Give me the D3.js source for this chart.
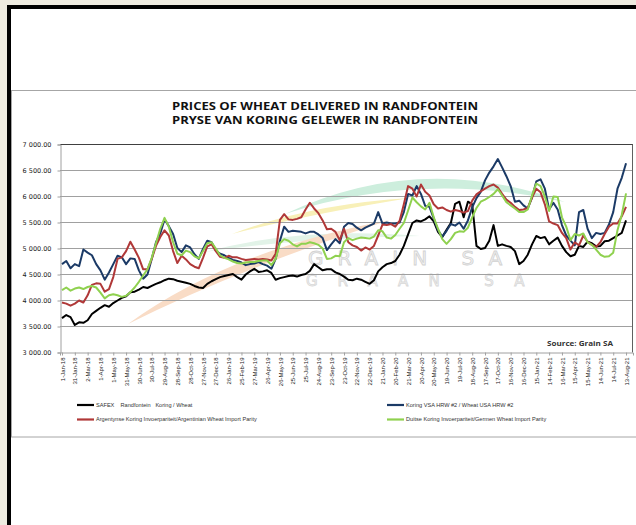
<!DOCTYPE html>
<html>
<head>
<meta charset="utf-8">
<script src="https://cdn.jsdelivr.net/npm/d3@7"></script>
<style>
html,body{margin:0;padding:0;background:#eeebe0;}
svg{display:block;}
text{font-family:"Liberation Sans",Arial,sans-serif;}
</style>
</head>
<body>
<svg id="chart"></svg>
<script>
// readings every 10 days from 1-Jan-18
const startDate = new Date(2018,0,1);
const stepDays = 10;

const safex = [3660,3720,3680,3530,3580,3570,3620,3740,3800,3860,
  3910,3880,3950,4000,4050,4080,4160,4170,4210,4260,
  4240,4280,4320,4350,4390,4420,4410,4380,4360,4340,
  4320,4280,4250,4240,4320,4370,4410,4450,4470,4490,
  4510,4450,4400,4500,4560,4610,4550,4560,4580,4530,
  4400,4430,4450,4470,4480,4460,4490,4510,4570,4700,
  4640,4580,4600,4600,4540,4510,4460,4400,4390,4420,
  4400,4360,4320,4390,4560,4640,4700,4720,4760,4880,
  5050,5270,5490,5540,5520,5560,5620,5520,5320,5220,
  5360,5490,5860,5900,5600,5900,5850,5050,4990,5010,
  5150,5450,5050,5080,5050,5030,4950,4700,4760,4880,
  5080,5240,5200,5220,5080,5150,5210,5050,4930,4850,
  4880,5050,5030,5130,5100,5040,5050,5140,5150,5200,
  5250,5300,5540];

const usaHrw = [4700,4760,4620,4700,4660,4980,4920,4870,4700,4580,
  4400,4540,4700,4860,4830,4700,4810,4800,4580,4420,
  4500,4800,5120,5290,5560,5430,5280,5010,4930,5060,
  5020,4890,4800,4990,5150,5120,4960,4900,4870,4820,
  4780,4760,4730,4680,4700,4710,4740,4700,4670,4610,
  4800,5150,5420,5320,5340,5330,5320,5290,5320,5320,
  5270,5200,4970,5080,5180,5100,5420,5490,5470,5400,
  5350,5400,5440,5480,5700,5480,5500,5480,5480,5500,
  5700,6050,6020,6200,6050,5820,5800,5580,5350,5230,
  5340,5470,5440,5500,5380,5540,5790,5970,6090,6310,
  6460,6580,6720,6560,6390,6200,5900,5920,5830,5770,
  5980,6290,6330,6150,5750,5880,5750,5450,5250,5150,
  5060,5700,5740,5380,5200,5300,5280,5300,5460,5700,
  6150,6360,6640];

const argentina = [3960,3940,3900,3940,4000,3960,4100,4300,4330,4320,
  4170,4220,4450,4800,4830,4950,5130,4980,4820,4600,
  4600,4800,5050,5220,5350,5250,4950,4720,4860,4790,
  4700,4650,4620,4820,5040,5080,4950,4840,4820,4860,
  4830,4830,4800,4780,4790,4800,4790,4800,4790,4770,
  4900,5550,5660,5560,5550,5570,5600,5750,5880,5770,
  5680,5540,5370,5380,5320,5160,5380,5120,5060,5030,
  4960,5020,4980,5050,5250,5460,5450,5470,5420,5530,
  5850,6200,6150,6000,6230,6090,6020,5850,5770,5790,
  5740,5710,5740,5720,5690,5720,5920,6040,6100,6150,
  6200,6230,6170,6050,5940,5880,5800,5740,5750,5780,
  5980,6150,6080,5850,5520,5480,5450,5300,5200,4980,
  5120,5060,5250,5130,5070,5030,5120,5280,5420,5480,
  5480,5620,5800];

const germany = [4200,4250,4190,4230,4250,4220,4260,4280,4250,4150,
  4040,4100,4120,4100,4070,4090,4160,4250,4360,4480,
  4600,4820,5100,5380,5590,5420,5120,4900,4870,4960,
  4930,4850,4810,4950,5100,5120,5000,4870,4820,4790,
  4750,4720,4710,4730,4740,4740,4760,4770,4770,4680,
  4800,5100,5180,5150,5080,5040,5090,5090,5120,5100,
  5070,5000,4800,4810,4860,4850,5120,5200,5160,5190,
  5210,5200,5190,5230,5350,5330,5210,5190,5260,5380,
  5490,5730,5980,5890,5810,5750,5880,5600,5380,5180,
  5090,5180,5300,5330,5320,5400,5600,5780,5900,5940,
  5990,6050,6140,6020,5890,5830,5770,5700,5700,5750,
  6020,6250,6200,6000,5720,6000,5990,5600,5420,5160,
  5280,5250,5290,5120,5070,4980,4880,4840,4850,4920,
  5350,5650,6060];

const xLabels = ["1-Jan-18","31-Jan-18","2-Mar-18","1-Apr-18","1-May-18","31-May-18",
  "30-Jun-18","30-Jul-18","29-Aug-18","28-Sep-18","28-Oct-18","27-Nov-18","27-Dec-18",
  "26-Jan-19","25-Feb-19","27-Mar-19","26-Apr-19","26-May-19","25-Jun-19","25-Jul-19",
  "24-Aug-19","23-Sep-19","23-Oct-19","22-Nov-19","22-Dec-19","21-Jan-20","20-Feb-20",
  "21-Mar-20","20-Apr-20","20-May-20","19-Jun-20","19-Jul-20","18-Aug-20","17-Sep-20",
  "17-Oct-20","16-Nov-20","16-Dec-20","15-Jan-21","14-Feb-21","16-Mar-21","15-Apr-21",
  "15-May-21","14-Jun-21","14-Jul-21","13-Aug-21"];

const yTicks = [3000,3500,4000,4500,5000,5500,6000,6500,7000];

const seriesNames = [
  "SAFEX    Randfontein   Koring / Wheat",
  "Koring VSA HRW #2 / Wheat USA HRW #2",
  "Argentynse Koring Invoerpariteit/Argentinian Wheat Import Parity",
  "Duitse Koring Invoerpariteit/Germen Wheat Import Parity"
];

const COLORS = ["#000000","#1b3a66","#b03838","#8fd14f"];

const W = 636;
const H = 525;
const plot = {left:60, right:633, top:144.5, bottom:352.5};

const svg = d3.select("#chart")
  .attr("width",W)
  .attr("height",H);

// page frame
svg.append("rect").attr("x",7).attr("y",5).attr("width",W).attr("height",H).attr("fill","#000");
svg.append("rect").attr("x",11).attr("y",9).attr("width",W).attr("height",H).attr("fill","#fff");
svg.append("rect")
  .attr("x",11.5).attr("y",90.5)
  .attr("width",W).attr("height",346.5)
  .attr("fill","#fff")
  .attr("stroke","#a6a6a6");

const parseLabel = d3.timeParse("%d-%b-%y");
const tickDates = xLabels.map(parseLabel);
const sampleDates = safex.map((d,i)=>d3.timeDay.offset(startDate,i*stepDays));

const x = d3.scaleTime()
  .domain([new Date(2017,11,27,8), new Date(2021,7,29,7)])
  .range([plot.left,plot.right]);

const y = d3.scaleLinear()
  .domain([3000,7000])
  .range([plot.bottom,plot.top]);

// watermark (Grain SA logo)
const wm = svg.append("g");
wm.append("path")
  .attr("d","M285,214 Q420,150 565,202 Q420,170 285,214 Z")
  .attr("fill","#cdeedd");
wm.append("path")
  .attr("d","M205,252 Q300,226 420,236 Q300,238 205,252 Z")
  .attr("fill","#e2f3e8");
wm.append("path")
  .attr("d","M232,234 Q310,204 410,198 Q310,214 232,234 Z")
  .attr("fill","#f8f0b8");
wm.append("path")
  .attr("d","M128,324 Q230,250 390,220 Q240,268 128,324 Z")
  .attr("fill","#f9dcc6");
wm.append("text")
  .attr("x",308).attr("y",265)
  .style("font-family","DejaVu Sans")
  .style("font-size","20px")
  .style("letter-spacing","14px")
  .attr("fill","#f1f1f1").attr("stroke","#d2d2d2").attr("stroke-width",0.8)
  .text("GRAIN SA");
wm.append("text")
  .attr("x",306).attr("y",286)
  .style("font-family","DejaVu Sans")
  .style("font-size","15px")
  .style("letter-spacing","20px")
  .attr("fill","#f4f4f4").attr("stroke","#d8d8d8").attr("stroke-width",0.8)
  .text("GRAAN SA");

// grid
svg.append("g")
  .selectAll("line")
  .data(yTicks.filter(d=>d>3000))
  .join("line")
  .attr("x1",plot.left).attr("x2",plot.right)
  .attr("y1",d=>y(d)).attr("y2",d=>y(d))
  .attr("stroke",d=>d===7000 ? "#404040" : "#a0a0a0")
  .attr("stroke-width",1);

svg.append("line")
  .attr("x1",plot.right-0.5).attr("x2",plot.right-0.5)
  .attr("y1",plot.top).attr("y2",plot.bottom)
  .attr("stroke","#606060");

const yFmt = d => d3.format(",.2f")(d).replace(","," ");

const yAxis = svg.append("g")
  .attr("transform",`translate(${plot.left+0.5},0)`)
  .call(d3.axisLeft(y).tickValues(yTicks).tickSize(3).tickPadding(6).tickFormat(yFmt));
yAxis.select(".domain").attr("stroke","#a0a0a0");
yAxis.selectAll(".tick line").attr("stroke","#a0a0a0");
yAxis.selectAll("text")
  .style("font-family","DejaVu Sans")
  .style("font-size","6.5px")
  .attr("fill","#222");

const xAxis = svg.append("g")
  .attr("transform",`translate(0,${plot.bottom})`)
  .call(d3.axisBottom(x).tickValues(tickDates).tickSize(3).tickFormat((d,i)=>xLabels[i]));
xAxis.select(".domain").attr("stroke","#a0a0a0");
xAxis.selectAll(".tick line").attr("stroke","#a0a0a0");
xAxis.selectAll("text")
  .attr("transform","rotate(-90)")
  .attr("x",-5)
  .attr("y",0)
  .attr("dy","0.35em")
  .style("text-anchor","end")
  .style("font-size","6px")
  .attr("fill","#222");

// series
const line = d3.line()
  .x((d,i)=>x(sampleDates[i]))
  .y(d=>y(d));

const allSeries = [safex,usaHrw,argentina,germany];

svg.append("g")
  .selectAll("path")
  .data(allSeries)
  .join("path")
  .attr("d",line)
  .attr("fill","none")
  .attr("stroke",(d,i)=>COLORS[i])
  .attr("stroke-width",2)
  .attr("stroke-linejoin","round");

// titles
svg.append("text")
  .attr("x",325).attr("y",109.5)
  .attr("text-anchor","middle")
  .attr("textLength",306).attr("lengthAdjust","spacingAndGlyphs")
  .style("font-family","Open Sans").style("font-weight","bold").style("font-size","10.5px")
  .attr("fill","#111")
  .text("PRICES OF WHEAT DELIVERED IN RANDFONTEIN");
svg.append("text")
  .attr("x",325).attr("y",123.5)
  .attr("text-anchor","middle")
  .attr("textLength",306).attr("lengthAdjust","spacingAndGlyphs")
  .style("font-family","Open Sans").style("font-weight","bold").style("font-size","10.5px")
  .attr("fill","#111")
  .text("PRYSE VAN KORING GELEWER IN RANDFONTEIN");

svg.append("text")
  .attr("x",547).attr("y",346)
  .attr("textLength",66).attr("lengthAdjust","spacingAndGlyphs")
  .style("font-family","Open Sans").style("font-weight","bold").style("font-size","6.8px")
  .attr("fill","#333")
  .text("Source: Grain SA");

// legend
const legendPos = [[77,405],[387,405],[77,419.5],[387,419.5]];
const legend = svg.append("g")
  .selectAll("g")
  .data(seriesNames)
  .join("g")
  .attr("transform",(d,i)=>`translate(${legendPos[i][0]},${legendPos[i][1]})`);
legend.append("line")
  .attr("x1",0).attr("x2",17)
  .attr("stroke",(d,i)=>COLORS[i])
  .attr("stroke-width",2.2);
legend.append("text")
  .attr("x",19).attr("dy","0.35em")
  .style("font-size","5.6px")
  .style("white-space","pre")
  .attr("fill","#333")
  .text(d=>d);
</script>
</body>
</html>
